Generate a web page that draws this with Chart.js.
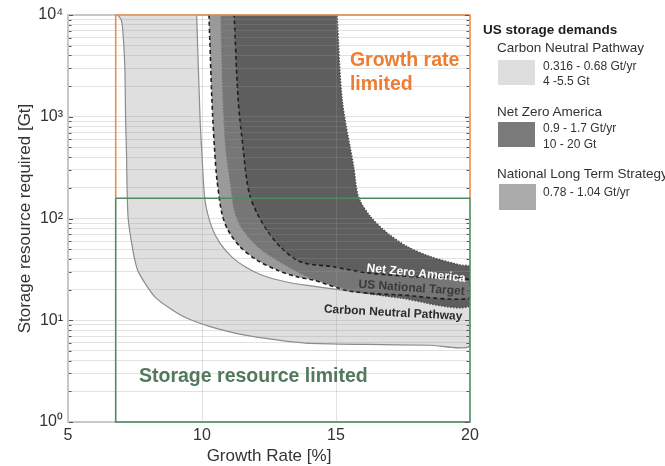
<!DOCTYPE html>
<html><head><meta charset="utf-8">
<script src="https://cdn.jsdelivr.net/npm/chart.js@4.4.1/dist/chart.umd.min.js"></script>
<style>
html,body{margin:0;padding:0;background:#fff;overflow:hidden;}
#wrap{position:relative;width:665px;height:466px;overflow:hidden;font-family:"Liberation Sans",Arial,sans-serif;color:#333;}
#c{position:absolute;left:0;top:0;}
.lg{position:absolute;white-space:nowrap;line-height:1;}
.sw{position:absolute;width:37px;height:25px;}
</style></head><body>
<div id="wrap">
<canvas id="c" width="665" height="466"></canvas>
<div class="lg" style="left:483px;top:23.3px;font-size:13.5px;font-weight:bold;color:#1e1e1e">US storage demands</div>
<div class="lg" style="left:497px;top:41.3px;font-size:13.5px">Carbon Neutral Pathway</div>
<div class="sw" style="left:498px;top:60px;background:#dedede"></div>
<div class="lg" style="left:543px;top:60.4px;font-size:12px">0.316 - 0.68 Gt/yr</div>
<div class="lg" style="left:543px;top:75.4px;font-size:12px">4 -5.5 Gt</div>
<div class="lg" style="left:497px;top:105.3px;font-size:13.5px">Net Zero America</div>
<div class="sw" style="left:498px;top:122px;background:#7a7a7a"></div>
<div class="lg" style="left:543px;top:122.4px;font-size:12px">0.9 - 1.7 Gt/yr</div>
<div class="lg" style="left:543px;top:138.4px;font-size:12px">10 - 20 Gt</div>
<div class="lg" style="left:497px;top:167.3px;font-size:13.5px">National Long Term Strategy</div>
<div class="sw" style="left:499px;top:184px;height:26px;background:#ababab"></div>
<div class="lg" style="left:543px;top:186.4px;font-size:12px">0.78 - 1.04 Gt/yr</div>
</div>
<script>
// ---- data (x: growth rate %, y: storage Gt) ----
const cnpLowerX = [6.85, 6.99, 7.05, 7.12, 7.15, 7.18, 7.24, 7.42, 7.60, 7.87, 8.24, 8.73, 9.36, 10.37, 11.61, 12.85, 13.86, 16.18, 18.5, 20];
const cnpLowerY = [10000, 8930, 6650, 3080, 930, 471, 104, 49, 31, 23.2, 17, 13.5, 10.7, 8.55, 7.13, 6.37, 5.96, 5.78, 5.68, 5.6];
const cnpUpperX = [9.80, 9.93, 9.99, 10.11, 10.36, 10.67, 11.11, 11.61, 12.24, 13.11, 13.86, 16.17, 18.5, 20];
const cnpUpperY = [10000, 930, 471, 152, 82.8, 57.3, 42, 33.5, 27.7, 23.9, 22.1, 18.4, 16.0, 14.6];

const nzaLowerX = [10.71, 10.79, 10.90, 11.05, 11.24, 11.54, 12.10, 12.81, 13.67, 14.31, 15.54, 17.42, 20];
const nzaLowerY = [10000, 1460, 471, 239, 113, 76.9, 52.4, 39, 29, 24.8, 19.8, 16.5, 13.8];
const nzaUpperX = [15.04, 15.23, 15.66, 15.84, 16.29, 16.92, 17.67, 18.54, 19.66, 20];
const nzaUpperY = [10000, 1460, 322, 163, 104, 71.8, 52.7, 42, 34.8, 33.3];

const nltsLowerX = [10.26, 10.37, 10.47, 10.56, 10.74, 10.97, 11.42, 12.05, 12.80, 13.55, 14.16, 15.54, 17.42, 20];
const nltsLowerY = [10000, 1460, 471, 239, 113, 76.9, 52.7, 39, 31.1, 26.7, 24.8, 19.3, 17.7, 16.5];
const nltsUpperX = [11.20, 11.35, 11.54, 11.67, 11.80, 12.05, 12.42, 12.92, 13.67, 14.91, 16.17, 18.16, 20];
const nltsUpperY = [10000, 1460, 471, 239, 163, 113, 76.9, 52.7, 37.5, 33.5, 29.2, 26.5, 24.8];

const growthLimitX = [6.78, 6.78, 20, 20];
const growthLimitY = [158, 10000, 10000, 158];
const storageLimitX = [6.78, 20, 20, 6.78, 6.78];
const storageLimitY = [158, 158, 1, 1, 158];

const xTickValues = [5, 10, 15, 20];
const yMajorValues = [1, 10, 100, 1000, 10000];
const yMajorLabels = ['10\u2070', '10\u00B9', '10\u00B2', '10\u00B3', '10\u2074'];
const yGridValues = [];
for (let e = 0; e < 4; e++) for (let m = 1; m < 10; m++) yGridValues.push(m * Math.pow(10, e));
yGridValues.push(10000);

// ---- helpers ----
const pts = (xs, ys) => xs.map((x, i) => ({x: x, y: ys[i]}));
const band = (lx, ly, ux, uy) => pts(lx, ly).concat(pts(ux, uy).reverse());

const FONT = '"Liberation Sans", Arial, sans-serif';

const notes = [
  {t: 'Growth rate', x: 15.52, y: 3120, f: 'bold 19.5px ' + FONT, c: '#ee7d31', a: 'left', b: 'alphabetic', r: 0},
  {t: 'limited', x: 15.52, y: 1832, f: 'bold 19.5px ' + FONT, c: '#ee7d31', a: 'left', b: 'alphabetic', r: 0},
  {t: 'Storage resource limited', x: 7.65, y: 2.47, f: 'bold 19.5px ' + FONT, c: '#52795b', a: 'left', b: 'alphabetic', r: 0},
  {t: 'Net Zero America', x: 17.99, y: 28.9, f: 'bold 12px ' + FONT, c: '#ffffff', a: 'center', b: 'middle', r: 6},
  {t: 'US National Target', x: 17.82, y: 20.7, f: 'bold 12px ' + FONT, c: '#3a3a3a', a: 'center', b: 'middle', r: 4},
  {t: 'Carbon Neutral Pathway', x: 17.13, y: 11.8, f: 'bold 12px ' + FONT, c: '#2c2c2c', a: 'center', b: 'middle', r: 3}
];

const notesPlugin = {
  id: 'notes',
  beforeDatasetsDraw(chart) {
    const ctx = chart.ctx, a = chart.chartArea;
    ctx.save();
    ctx.strokeStyle = '#c8c8c8';
    ctx.lineWidth = 2;
    ctx.beginPath();
    ctx.moveTo(a.right, a.top);
    ctx.lineTo(a.left, a.top);
    ctx.lineTo(a.left, a.bottom);
    ctx.lineTo(a.right, a.bottom);
    ctx.stroke();
    ctx.restore();
  },
  afterDraw(chart) {
    const ctx = chart.ctx, xs = chart.scales.x, ys = chart.scales.y, a = chart.chartArea;
    ctx.save();
    ctx.strokeStyle = '#555';
    ctx.lineWidth = 1;
    yGridValues.forEach(v => {
      const p = Math.round(ys.getPixelForValue(v)) + 0.5;
      const len = yMajorValues.includes(v) ? 4 : 2.5;
      ctx.beginPath();
      ctx.moveTo(a.left + 1, p); ctx.lineTo(a.left + 1 + len, p);
      ctx.moveTo(a.right - 1, p); ctx.lineTo(a.right - 1 - len, p);
      ctx.stroke();
    });
    ctx.restore();
    notes.forEach(n => {
      ctx.save();
      ctx.translate(xs.getPixelForValue(n.x), ys.getPixelForValue(n.y));
      ctx.rotate(n.r * Math.PI / 180);
      ctx.font = n.f;
      ctx.fillStyle = n.c;
      ctx.textAlign = n.a;
      ctx.textBaseline = n.b;
      ctx.fillText(n.t, 0, 0);
      ctx.restore();
    });
  }
};

const gridCol = 'rgba(150,150,150,0.28)';

new Chart(document.getElementById('c'), {
  type: 'line',
  data: {
    datasets: [
      {label: 'Carbon Neutral Pathway', data: band(cnpLowerX, cnpLowerY, cnpUpperX, cnpUpperY),
       fill: 'shape', backgroundColor: '#dfdfdf', borderColor: '#8c8c8c', borderWidth: 1.2, tension: 0.25, order: 5},
      {label: 'Net Zero America', data: band(nzaLowerX, nzaLowerY, nzaUpperX, nzaUpperY),
       fill: 'shape', backgroundColor: '#5e5e5e', borderColor: '#4c4c4c', borderWidth: 1.5, borderDash: [1.5, 1.5], tension: 0.3, order: 4},
      {label: 'National Long Term Strategy', data: band(nltsLowerX, nltsLowerY, nltsUpperX, nltsUpperY),
       fill: 'shape', backgroundColor: 'rgba(126,126,126,0.78)', borderColor: '#1e1e1e', borderWidth: 1.6, borderDash: [4, 3], tension: 0.3, order: 3},
      {label: 'Growth rate limited', data: pts(growthLimitX, growthLimitY),
       fill: false, borderColor: '#ef8c4c', borderWidth: 1.6, tension: 0, order: 2, clip: 4},
      {label: 'Storage resource limited', data: pts(storageLimitX, storageLimitY),
       fill: false, borderColor: '#4f8a5f', borderWidth: 1.6, tension: 0, order: 1, clip: 4}
    ]
  },
  options: {
    responsive: false,
    devicePixelRatio: 1,
    animation: false,
    events: [],
    layout: {padding: {top: 15, right: 195, bottom: 0, left: 0}},
    elements: {point: {radius: 0}},
    plugins: {legend: {display: false}, tooltip: {enabled: false}},
    scales: {
      x: {
        type: 'linear', min: 5, max: 20,
        afterBuildTicks: s => { s.ticks = xTickValues.map(v => ({value: v})); },
        afterFit: s => { s.height = 44; },
        ticks: {font: {family: FONT, size: 16}, color: '#333', padding: 4},
        grid: {z: 1, drawTicks: false, color: c => (c.tick && (c.tick.value === 5 || c.tick.value === 20)) ? 'rgba(0,0,0,0)' : gridCol, lineWidth: 1},
        border: {display: false},
        title: {display: true, text: 'Growth Rate [%]', font: {family: FONT, size: 17, lineHeight: 1.1}, color: '#333', padding: {top: 0, bottom: 0}}
      },
      y: {
        type: 'logarithmic', min: 1, max: 10000,
        afterBuildTicks: s => { s.ticks = yGridValues.map(v => ({value: v, major: yMajorValues.includes(v)})); },
        afterFit: s => { s.width = 68; },
        ticks: {
          autoSkip: false,
          font: {family: FONT, size: 16}, color: '#333', padding: 5,
          callback: v => { const i = yMajorValues.indexOf(v); return i >= 0 ? yMajorLabels[i] : ''; }
        },
        grid: {z: 1, drawTicks: false, color: c => (c.tick && (c.tick.value === 1 || c.tick.value === 10000)) ? 'rgba(0,0,0,0)' : gridCol, lineWidth: 1},
        border: {display: false},
        title: {display: true, text: 'Storage resource required [Gt]', font: {family: FONT, size: 17, lineHeight: 1.2}, color: '#333', padding: {top: 15, bottom: 0}}
      }
    }
  },
  plugins: [notesPlugin]
});
</script>
</body></html>
